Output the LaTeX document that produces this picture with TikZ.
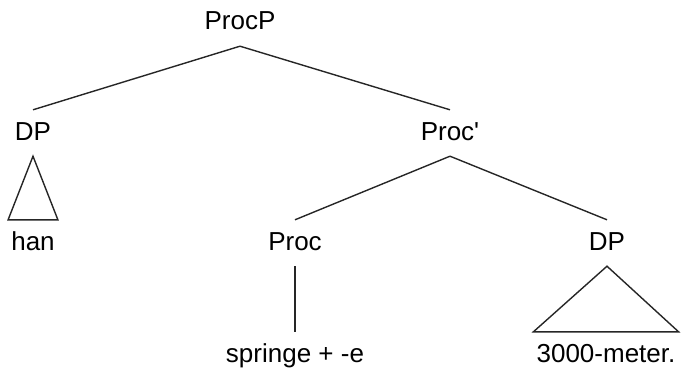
\documentclass[tikz,border=0pt]{standalone}
\usepackage{fontspec}
\setmainfont{Liberation Sans}
\usepackage{tikz}
\usetikzlibrary{positioning}

\tikzset{
  cat/.style={font=\fontsize{26}{30}\selectfont, text height=19pt, text depth=5pt,
              inner xsep=3pt, inner ysep=11pt},
  branch/.style={line width=1.4pt, black!85}
}

\begin{document}
\begin{tikzpicture}[x=1pt,y=-1pt]
  %\draw[color=gray,step=10pt, help lines,opacity=0.3] (0,0) grid (681,369); %help grids
  \useasboundingbox (0,0) rectangle (681,369);
  \node[cat] (procp) at (240,23) {ProcP};
  \node[cat] (dpa) at (33,133) {DP};
  \node[cat] (procbar) at (450,133) {Proc\textquotesingle};
  \node[cat] (han) at (33,243) {han};
  \node[cat] (proc) at (295,243) {Proc};
  \node[cat] (dpb) at (607,243) {DP};
  \node[cat] (springe) at (295,355) {springe + -e};
  \node[cat] (meter) at (606,355) {3000-meter.};
  \draw[branch] (procp.south)--(dpa.north);
  \draw[branch] (procp.south)--(procbar.north);
  \draw[branch] (procbar.south)--(proc.north);
  \draw[branch] (procbar.south)--(dpb.north);
  \draw[branch] (proc.south)--(springe.north);
  \draw[branch] (dpa.south)--(han.north west)--(han.north east)--cycle;
  \draw[branch] (dpb.south)--(meter.north west)--(meter.north east)--cycle;
\end{tikzpicture}
\end{document}
